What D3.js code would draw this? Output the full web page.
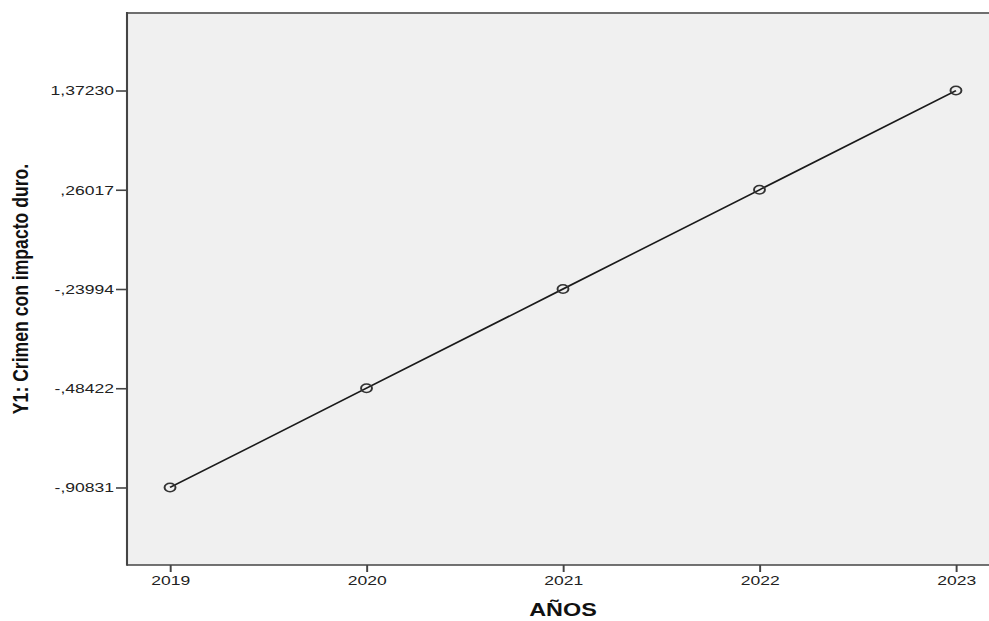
<!DOCTYPE html>
<html>
<head>
<meta charset="utf-8">
<style>
  body { margin: 0; background-color: white; }
  svg { font-family: Arial, 'Liberation Sans', sans-serif; display: block; }
  .axis line { stroke: #444; }
  .axis text { fill: #222; font-size: 13.5px; font-family: Arial, 'Liberation Sans', sans-serif; }
</style>
</head>
<body>
<div id="my_dataviz"></div>
<script src="https://d3js.org/d3.v7.min.js"></script>
<script>
// data
var years = ["2019", "2020", "2021", "2022", "2023"];
var y1Values = [-0.90831, -0.48422, -0.23994, 0.26017, 1.37230];
var yTickLabels = ["-,90831", "-,48422", "-,23994", ",26017", "1,37230"];

var width = 989, height = 621;
var sx = 1.3; // the original export is stretched sideways
var plot = {left: 127, right: 999, top: 13, bottom: 565};

var svg = d3.select("#my_dataviz")
  .append("svg")
    .attr("width", width)
    .attr("height", height);

var g = svg.append("g")
    .attr("transform", "scale(" + sx + ",1)");

// both axes are categorical in SPSS
var x = d3.scalePoint()
  .domain(years)
  .range([plot.left / sx, plot.right / sx])
  .padding(0.219);

var y = d3.scalePoint()
  .domain(y1Values)
  .range([plot.bottom, plot.top])
  .padding(0.781);

// plot background
g.append("rect")
  .attr("x", plot.left / sx)
  .attr("y", plot.top)
  .attr("width", (plot.right - plot.left) / sx)
  .attr("height", plot.bottom - plot.top)
  .attr("fill", "#f0f0f0");

// X axis
var xAxis = g.append("g")
  .attr("class", "axis")
  .attr("transform", "translate(0," + plot.bottom + ")")
  .call(d3.axisBottom(x).tickSizeOuter(0).tickSize(7).tickPadding(3));
xAxis.select(".domain").remove();
xAxis.selectAll(".tick line").attr("stroke-width", 1.5);

// Y axis
var yAxis = g.append("g")
  .attr("class", "axis")
  .attr("transform", "translate(" + plot.left / sx + ",0)")
  .call(d3.axisLeft(y).tickSizeOuter(0).tickSize(11 / sx).tickPadding(2 / sx)
    .tickFormat(function(d, i) { return yTickLabels[i]; }));
yAxis.select(".domain").remove();
yAxis.selectAll(".tick line").attr("stroke-width", 1.6);

// frame: top, left, bottom
g.append("line")
  .attr("x1", plot.left / sx)
  .attr("x2", plot.right / sx)
  .attr("y1", plot.top)
  .attr("y2", plot.top)
  .attr("stroke", "#6e6e6e")
  .attr("stroke-width", 2);

g.append("line")
  .attr("x1", plot.left / sx)
  .attr("x2", plot.left / sx)
  .attr("y1", plot.top - 1)
  .attr("y2", plot.bottom + 0.8)
  .attr("stroke", "#444")
  .attr("stroke-width", 1.6);

g.append("line")
  .attr("x1", plot.left / sx)
  .attr("x2", plot.right / sx)
  .attr("y1", plot.bottom)
  .attr("y2", plot.bottom)
  .attr("stroke", "#444")
  .attr("stroke-width", 1.6);

// axis titles
g.append("text")
  .attr("x", x("2021"))
  .attr("y", 616)
  .attr("text-anchor", "middle")
  .style("font-size", "18px")
  .style("font-weight", "bold")
  .attr("fill", "#111")
  .text("AÑOS");

g.append("text")
  .attr("transform", "translate(" + (28 / sx) + ",289) rotate(-90)")
  .attr("text-anchor", "middle")
  .style("font-size", "17.6px")
  .style("font-weight", "bold")
  .attr("fill", "#111")
  .text("Y1: Crimen con impacto duro.");

// the line
g.append("path")
  .datum(y1Values)
  .attr("fill", "none")
  .attr("stroke", "#1a1a1a")
  .attr("stroke-width", 1.5)
  .attr("d", d3.line()
    .x(function(d, i) { return x(years[i]); })
    .y(function(d) { return y(d); }));

// markers
g.selectAll(".marker")
  .data(y1Values)
  .enter()
  .append("circle")
    .attr("class", "marker")
    .attr("cx", function(d, i) { return x(years[i]); })
    .attr("cy", function(d) { return y(d); })
    .attr("r", 4.2)
    .attr("fill", "none")
    .attr("stroke", "#333")
    .attr("stroke-width", 1.5);
</script>
</body>
</html>
